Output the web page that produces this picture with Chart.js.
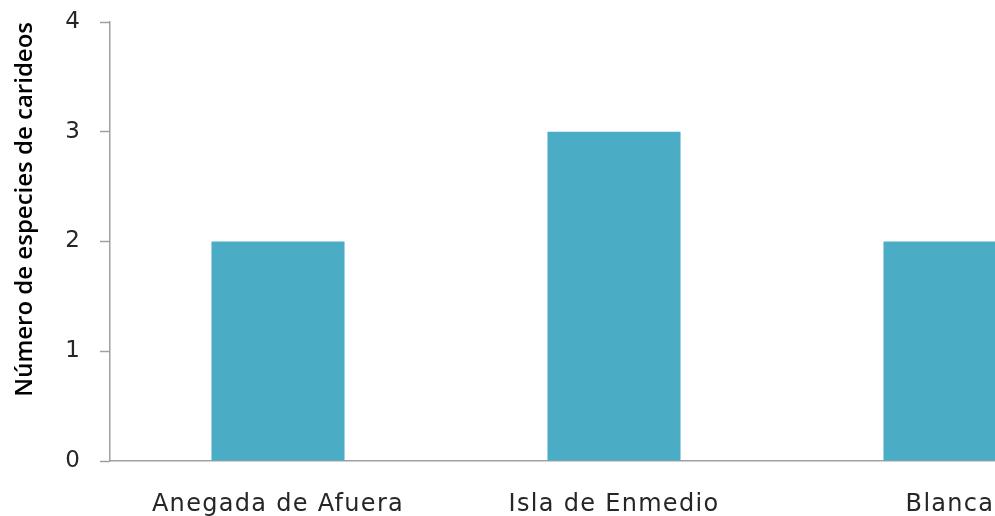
<!DOCTYPE html>
<html>
<head>
<meta charset="utf-8">
<script src="https://cdn.jsdelivr.net/npm/chart.js@4/dist/chart.umd.min.js"></script>
<style>
  html, body { margin: 0; padding: 0; background: #fff; overflow: hidden; width: 995px; height: 516px; }
  canvas { display: block; }
</style>
</head>
<body>
<canvas id="c" width="1130" height="540"></canvas>
<script>
const categories = ["Anegada de Afuera", "Isla de Enmedio", "Blanca"];
const speciesCount = [2, 3, 2];
const yTicks = [0, 1, 2, 3, 4];
const yTitle = "Número de especies de carideos";

const BaseCat = Chart.CategoryScale || Chart.registry.getScale('category');
class SpacedCategory extends BaseCat {
  drawLabels(chartArea) {
    const ctx = this.ctx;
    const prev = ctx.letterSpacing;
    ctx.letterSpacing = '1.3px';
    super.drawLabels(chartArea);
    ctx.letterSpacing = prev || '0px';
  }
}
SpacedCategory.id = 'spacedCategory';
SpacedCategory.defaults = BaseCat.defaults;
Chart.register(SpacedCategory);

const axisGrey = '#a0a0a0';

new Chart(document.getElementById('c'), {
  type: 'bar',
  data: {
    labels: categories,
    datasets: [{
      data: speciesCount,
      backgroundColor: '#4bacc6',
      borderWidth: 0,
      categoryPercentage: 1,
      barPercentage: 0.396
    }]
  },
  options: {
    responsive: false,
    animation: false,
    devicePixelRatio: 1,
    layout: { padding: { top: 22, right: 12, bottom: 0, left: 0 } },
    plugins: { legend: { display: false }, tooltip: { enabled: false } },
    scales: {
      x: {
        type: 'spacedCategory',
        grid: { display: false, drawTicks: false },
        border: { display: true, color: axisGrey, width: 1.5 },
        ticks: {
          autoSkip: false, maxRotation: 0, minRotation: 0,
          padding: 29,
          color: '#262626',
          font: { family: 'DejaVu Sans', size: 24 }
        },
        afterFit: (s) => { s.height = 79; s.paddingLeft = 0; s.paddingRight = 0; }
      },
      y: {
        min: 0, max: 4,
        afterBuildTicks: (s) => { s.ticks = yTicks.map(v => ({ value: v })); },
        grid: { drawOnChartArea: false, drawTicks: true, tickLength: 10, tickColor: axisGrey, tickWidth: 1.5 },
        border: { display: true, color: axisGrey, width: 1.5 },
        ticks: {
          padding: 20,
          color: '#262626',
          font: { family: 'DejaVu Sans', size: 23 }
        },
        title: {
          display: true,
          text: yTitle,
          color: '#000',
          align: 'end',
          font: { family: 'Open Sans', size: 24, weight: '600' },
          padding: { top: 11, bottom: 0 }
        },
        afterFit: (s) => { s.width = 110; s.paddingTop = 0; s.paddingBottom = 0; }
      }
    }
  }
});
</script>
</body>
</html>
